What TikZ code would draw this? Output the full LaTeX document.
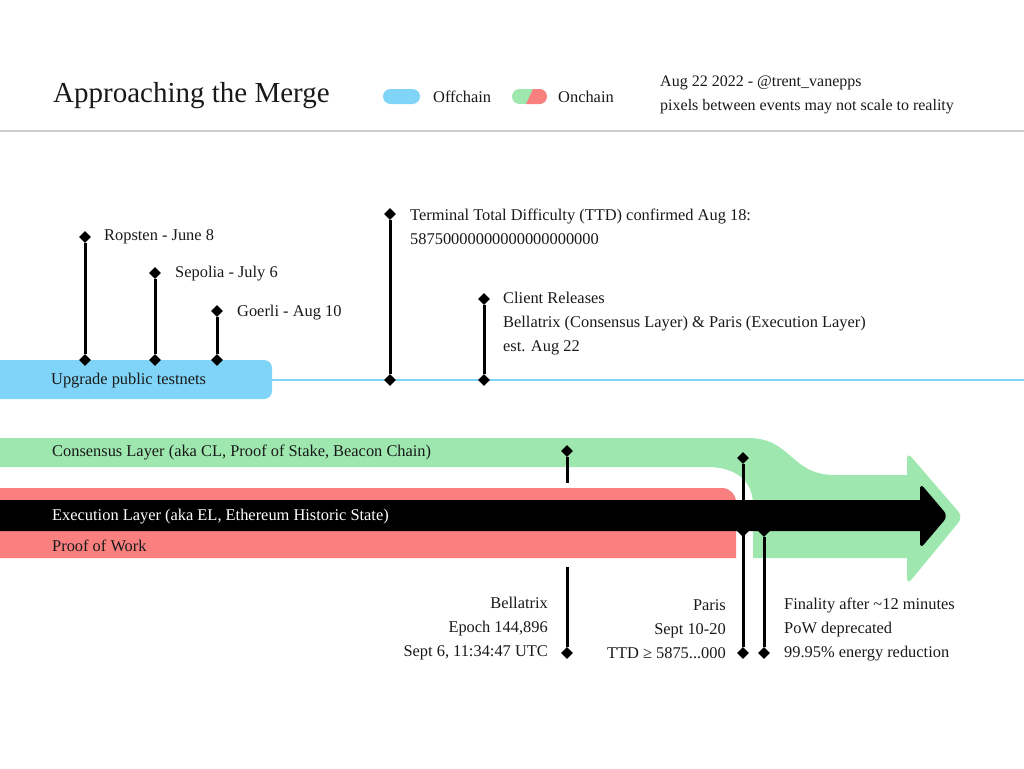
\documentclass[tikz,border=0pt]{standalone}
\usepackage{fontspec}
\setmainfont{Liberation Serif}
\usetikzlibrary{shapes.geometric}
\definecolor{offblue}{RGB}{128,212,247}
\definecolor{posgreen}{RGB}{158,232,176}
\definecolor{powred}{RGB}{250,128,128}
\definecolor{inkgray}{RGB}{25,25,25}
\tikzset{
  dot/.style={diamond,fill=black,inner sep=0pt,minimum size=12pt},
  stem/.style={line width=3pt},
  lbl/.style={anchor=west,inner sep=0pt,text=inkgray,font=\fontsize{16.4}{24}\selectfont,align=left},
}
\begin{document}
\begin{tikzpicture}[x=1pt,y=-1pt]
            \useasboundingbox (0,0) rectangle (1024,768);
            % Header
            \node[lbl,font=\fontsize{29}{30}\selectfont] (title) at (53,96) {Approaching the Merge};
            \fill[offblue,rounded corners=7.5pt] (383,89) rectangle (420,104);
            \node[lbl] (offkey) at (433,97) {Offchain};
            \begin{scope}
                \clip[rounded corners=7.5pt] (512,89) rectangle (547,104);
                \fill[posgreen] (512,89) rectangle (547,104);
                \fill[powred] (533,89) -- (548,89) -- (548,104) -- (526,104) -- cycle;
            \end{scope}
            \node[lbl] (onkey) at (558,97) {Onchain};
            \node[lbl,font=\fontsize{16}{24}\selectfont] (credit) at (660,83) {Aug 22 2022 - @trent\_vanepps};
            \node[lbl,font=\fontsize{16}{24}\selectfont] (note) at (660,107) {pixels between events may not scale to reality};
            \draw[black!20,line width=1.5pt] (0,131) -- (1024,131);
            % Offchain track
            \fill[offblue,rounded corners=8pt] (-10,360) rectangle (272,399);
            \draw[offblue,line width=2pt] (272,380) -- (1024,380);
            \node[lbl] (testnets) at (51,381) {Upgrade public testnets};
            % Testnet events
            \node[dot] (ropT) at (85,237) {};
            \node[dot] (ropB) at (85,360) {};
            \draw[stem] (ropT) -- (ropB);
            \node[lbl] (rop) at (104,237) {Ropsten - June 8};
            \node[dot] (sepT) at (155,273) {};
            \node[dot] (sepB) at (155,360) {};
            \draw[stem] (sepT) -- (sepB);
            \node[lbl] (sep) at (175,274) {Sepolia - July 6};
            \node[dot] (goeT) at (217,311) {};
            \node[dot] (goeB) at (217,360) {};
            \draw[stem] (goeT) -- (goeB);
            \node[lbl] (goe) at (237,313) {Goerli - Aug 10};
            % TTD and client releases
            \node[dot] (ttdT) at (390,214) {};
            \node[dot] (ttdB) at (390,380) {};
            \draw[stem] (ttdT) -- (ttdB);
            \node[lbl] (ttd) at (410,227) {Terminal Total Difficulty (TTD) confirmed Aug 18:\\58750000000000000000000};
            \node[dot] (cliT) at (484,299) {};
            \node[dot] (cliB) at (484,380) {};
            \draw[stem] (cliT) -- (cliB);
            \node[lbl] (cli) at (503,324) {Client Releases\\Bellatrix (Consensus Layer) \& Paris (Execution Layer)\\est. Aug 22};
            % Consensus layer: green band merging into the arrow
            \fill[posgreen] (-10,438) -- (748,438)
                .. controls (792,438) and (790,475) .. (835,475) -- (907,475)
                [rounded corners=7pt] -- (907,452) -- (963,517) -- (907,585)
                [sharp corners] -- (907,558) -- (753,558) -- (753,505)
                .. controls (753,480) and (735,467) .. (707,467) -- (-10,467) -- cycle;
            % Proof of work band
            \fill[powred] (-10,558) -- (-10,488) [rounded corners=14pt] -- (736,488)
                [sharp corners] -- (736,558) -- cycle;
            % Execution layer arrow
            \fill[black] (-10,500) -- (920,500) [rounded corners=6pt] -- (920,483) -- (948,516)
                -- (920,549) [sharp corners] -- (920,531) -- (-10,531) -- cycle;
            \node[lbl] (cl) at (52,452) {Consensus Layer (aka CL, Proof of Stake, Beacon Chain)};
            \node[lbl,text=white] (el) at (52,517) {Execution Layer (aka EL, Ethereum Historic State)};
            \node[lbl] (pow) at (52,546) {Proof of Work};
            % Bellatrix
            \node[dot] (belT) at (567,451) {};
            \coordinate (belE) at (567,483);
            \draw[stem] (belT) -- (belE);
            \coordinate (belS) at (567,567);
            \node[dot] (belB) at (567,653) {};
            \draw[stem] (belS) -- (belB);
            \node[lbl,anchor=east,align=right] (bel) at (548,629) {Bellatrix\\Epoch 144,896\\Sept 6, 11:34:47 UTC};
            % Paris
            \node[dot] (parT) at (743,458) {};
            \node[dot] (parM) at (743,531) {};
            \node[dot] (parB) at (743,653) {};
            \draw[stem] (parT) -- (parB);
            \node[lbl,anchor=east,align=right] (par) at (726,629) {Paris\\Sept 10-20\\TTD ≥ 5875...000};
            % Finality
            \node[dot] (finT) at (764,531) {};
            \node[dot] (finB) at (764,653) {};
            \draw[stem] (finT) -- (finB);
            \node[lbl] (fin) at (784,629) {Finality after \textasciitilde12 minutes\\PoW deprecated\\99.95\% energy reduction};
        \end{tikzpicture}
\end{document}
